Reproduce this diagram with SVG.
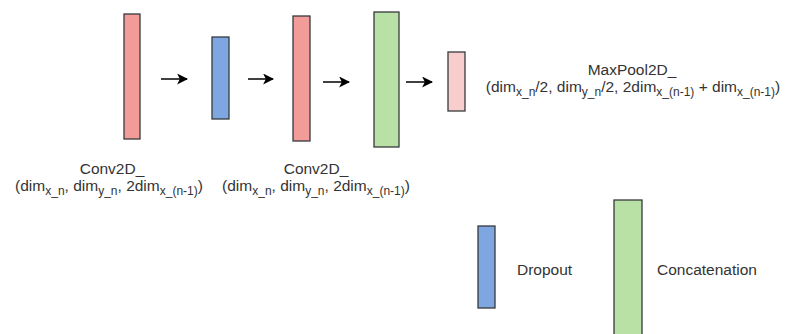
<svg xmlns="http://www.w3.org/2000/svg" width="787" height="334" viewBox="0 0 787 334">
<style>
.conv{fill:#F19C99;stroke:#36393d;stroke-width:1.3}
.drop{fill:#7EA6E0;stroke:#36393d;stroke-width:1.3}
.cat{fill:#B9E0A5;stroke:#36393d;stroke-width:1.3}
.pool{fill:#F8CECC;stroke:#36393d;stroke-width:1.3}
text{font-family:"Liberation Sans",Arial,sans-serif;font-size:15.5px;fill:#333}
.c{text-anchor:middle}
.s{font-size:12px}
.edge{stroke:#000;stroke-width:1.5;fill:none;marker-end:url(#ah)}
</style>
<defs>
<marker id="ah" viewBox="0 0 10 10" refX="9" refY="5" markerWidth="11" markerHeight="11" markerUnits="userSpaceOnUse" orient="auto">
<path d="M0,0 L10,5 L0,10 L2.5,5 Z" fill="#000"/>
</marker>
</defs>
<g id="conv1">
<rect class="conv" x="124" y="14" width="16" height="125"/>
<text class="c" x="112" y="174">Conv2D_</text>
<text class="c" x="109" y="191">(dim<tspan class="s" dy="4">x_n</tspan><tspan dy="-4">, dim</tspan><tspan class="s" dy="4">y_n</tspan><tspan dy="-4">, 2dim</tspan><tspan class="s" dy="4">x_(n-1)</tspan><tspan dy="-4">)</tspan></text>
</g>
<g id="dropout1">
<rect class="drop" x="212" y="37" width="17" height="82"/>
</g>
<g id="conv2">
<rect class="conv" x="293" y="16" width="17" height="125"/>
<text class="c" x="316" y="174">Conv2D_</text>
<text class="c" x="316" y="191">(dim<tspan class="s" dy="4">x_n</tspan><tspan dy="-4">, dim</tspan><tspan class="s" dy="4">y_n</tspan><tspan dy="-4">, 2dim</tspan><tspan class="s" dy="4">x_(n-1)</tspan><tspan dy="-4">)</tspan></text>
</g>
<g id="concat1">
<rect class="cat" x="374" y="12" width="25" height="135"/>
</g>
<g id="maxpool">
<rect class="pool" x="448" y="52" width="17" height="59"/>
<text class="c" x="632" y="75">MaxPool2D_</text>
<text class="c" x="633" y="92">(dim<tspan class="s" dy="4">x_n</tspan><tspan dy="-4">/2, dim</tspan><tspan class="s" dy="4">y_n</tspan><tspan dy="-4">/2, 2dim</tspan><tspan class="s" dy="4">x_(n-1)</tspan><tspan dy="-4"> + dim</tspan><tspan class="s" dy="4">x_(n-1)</tspan><tspan dy="-4">)</tspan></text>
</g>
<g id="legend-dropout">
<rect class="drop" x="478" y="226" width="17" height="82"/>
<text x="517" y="275">Dropout</text>
</g>
<g id="legend-concat">
<rect class="cat" x="614" y="200" width="28" height="136"/>
<text x="657" y="275">Concatenation</text>
</g>
<g id="connectors">
<line class="edge" x1="161" y1="79" x2="187" y2="79"/>
<line class="edge" x1="248" y1="79" x2="273" y2="79"/>
<line class="edge" x1="323" y1="82" x2="349" y2="82"/>
<line class="edge" x1="406" y1="82" x2="432" y2="82"/>
</g>
</svg>
